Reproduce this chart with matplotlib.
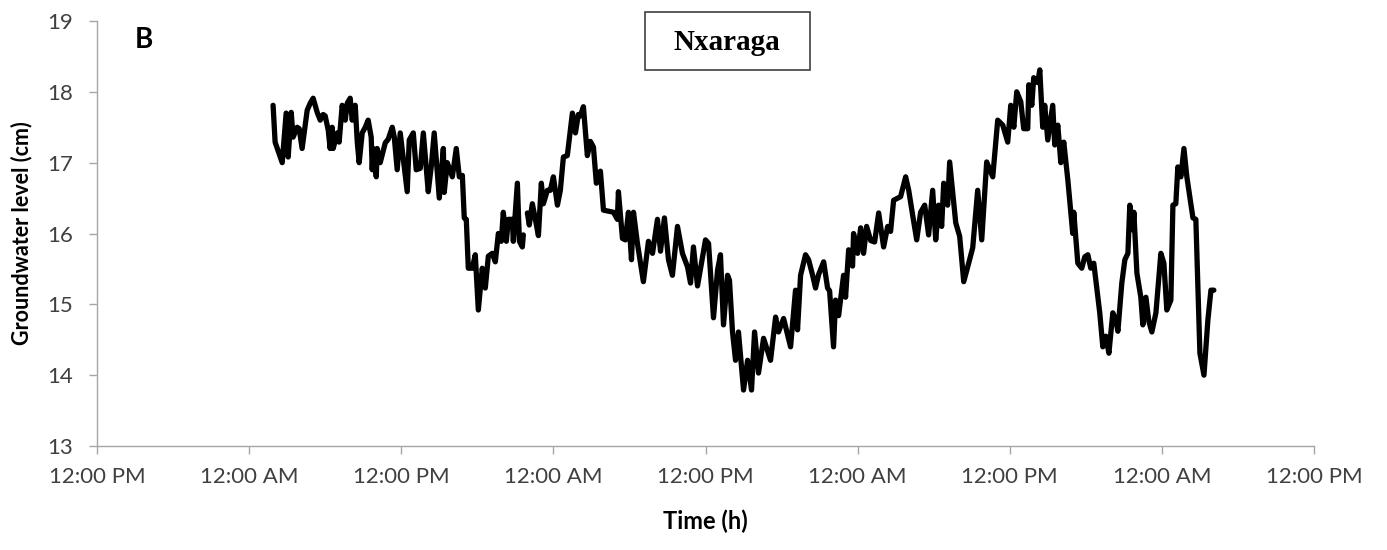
import numpy as np
import matplotlib
matplotlib.use("Agg")
from matplotlib import pyplot as plt
from matplotlib.patches import Rectangle

# hours since the first 12:00 PM, groundwater level (cm)
hours = [13.89, 14.05, 14.61, 14.92, 15.08, 15.32, 15.47, 15.79, 15.95, 16.18,
         16.58, 16.82, 17.05, 17.37, 17.61, 17.84, 18.0, 18.24, 18.39, 18.55,
         18.63, 18.95, 19.1, 19.34, 19.58, 19.74, 19.97, 20.13, 20.37, 20.53,
         20.68, 20.92, 21.16, 21.39, 21.63, 21.71, 21.79, 22.03, 22.1, 22.34,
         22.74, 22.97, 23.29, 23.45, 23.68, 23.92, 24.47, 24.63, 24.95, 25.18,
         25.5, 25.74, 26.13, 26.37, 26.6, 27.0, 27.32, 27.39, 27.63, 28.03,
         28.34, 28.58, 28.82, 28.97, 29.13, 29.29, 29.6, 29.84, 30.08, 30.39,
         30.63, 30.87, 31.18, 31.42, 31.66, 31.89, 32.05, 32.29, 32.45, 32.76,
         32.84, 33.16, 33.32, 33.55, 33.63, 33.8,
         33.95, 34.1, 34.34, 34.58, 34.82, 35.05, 35.21, 35.53, 35.76, 36.0,
         36.32, 36.55, 36.79, 37.1, 37.5, 37.74, 37.97, 38.13, 38.37, 38.68,
         38.92, 39.16, 39.39, 39.71, 39.95, 40.74, 41.05, 41.13, 41.45, 41.68,
         41.92, 42.16, 42.32, 42.63, 43.1, 43.5, 43.82, 44.21, 44.45, 44.76,
         45.08, 45.39, 45.79, 46.18, 46.58, 46.82, 47.05, 47.37, 47.6, 48.0,
         48.24, 48.63, 48.95, 49.18, 49.42, 49.74, 49.89, 50.13, 50.37, 50.6,
         51.0, 51.32, 51.63, 51.87, 52.18, 52.58, 53.13, 53.53, 53.76, 54.16,
         54.71, 55.1, 55.26, 55.5, 55.89, 56.13, 56.45, 56.68, 56.92, 57.32,
         57.63, 57.79, 58.1, 58.26, 58.5, 58.89, 59.05, 59.29, 59.6, 59.68,
         60.0, 60.24, 60.47, 60.71, 61.03, 61.34, 61.66, 62.05, 62.37, 62.6,
         62.84, 63.39, 63.79, 64.03, 64.34, 64.66, 64.97, 65.29, 65.6, 65.92,
         66.16, 66.39, 66.63, 66.79, 67.1, 67.26, 67.74, 68.05, 68.37, 68.76,
         69.08, 69.47, 69.79, 70.18, 70.66, 71.05, 71.45, 71.84, 72.08, 72.32,
         72.55, 72.87, 73.1, 73.42, 73.5, 73.74, 73.89, 74.21, 74.37, 74.6,
         74.76, 75.0, 75.39, 75.55, 75.79, 76.03, 76.26, 76.58, 76.97, 77.05,
         77.37, 77.68, 77.92, 78.16, 78.39, 78.63, 79.1, 79.34, 79.58, 79.82,
         80.13, 80.37, 80.53, 80.84, 81.08, 81.32, 81.47, 81.71, 81.79, 82.03,
         82.34, 82.5, 82.74, 82.97, 83.21, 83.53, 83.92, 84.16, 84.39, 84.71,
         84.87, 85.1, 85.26, 85.5, 85.74, 85.97, 86.45, 86.68, 87.0, 87.32,
         87.63, 87.87, 88.1]

level = [17.81, 17.29, 17.0, 17.7, 17.08, 17.71, 17.36, 17.5, 17.48, 17.2,
         17.74, 17.84, 17.91, 17.71, 17.6, 17.68, 17.66, 17.46, 17.2, 17.5,
         17.2, 17.42, 17.29, 17.81, 17.6, 17.84, 17.91, 17.6, 17.81, 17.29,
         17.0, 17.42, 17.5, 17.6, 17.36, 16.9, 17.2, 16.8, 17.2, 17.0,
         17.28, 17.33, 17.5, 17.36, 16.9, 17.42, 16.59, 17.32, 17.42, 16.9,
         16.92, 17.42, 16.59, 16.95, 17.42, 16.5, 17.2, 16.58, 17.0, 16.8,
         17.2, 16.8, 16.82, 16.22, 16.2, 15.51, 15.51, 15.7, 14.92, 15.51,
         15.23, 15.68, 15.72, 15.6, 16.0, 15.89, 16.3, 15.89, 16.2, 16.2,
         15.89, 16.71, 15.89, 15.81, 15.98, np.nan,
         16.29, 16.12, 16.42, 16.2, 15.97, 16.71, 16.42, 16.61, 16.61, 16.8,
         16.4, 16.61, 17.08, 17.1, 17.7, 17.42, 17.68, 17.66, 17.79, 17.1,
         17.3, 17.22, 16.71, 16.88, 16.33, 16.3, 16.2, 16.59, 15.93, 15.91,
         16.3, 15.63, 16.3, 15.86, 15.32, 15.89, 15.72, 16.2, 15.75, 16.22,
         15.63, 15.41, 16.1, 15.72, 15.53, 15.3, 15.81, 15.26, 15.5, 15.91,
         15.86, 14.81, 15.48, 15.7, 14.71, 15.41, 15.34, 14.61, 14.21, 14.61,
         13.79, 14.21, 13.79, 14.61, 14.03, 14.52, 14.21, 14.82, 14.61, 14.8,
         14.4, 15.2, 14.64, 15.41, 15.7, 15.63, 15.41, 15.23, 15.42, 15.6,
         15.23, 15.19, 14.4, 15.06, 14.84, 15.41, 15.1, 15.77, 15.54, 16.0,
         15.72, 16.08, 15.72, 16.1, 15.9, 15.88, 16.29, 15.81, 16.1, 16.03,
         16.47, 16.52, 16.8, 16.61, 16.26, 15.91, 16.3, 16.4, 15.98, 16.61,
         15.91, 16.4, 16.1, 16.71, 16.4, 17.01, 16.15, 15.96, 15.32, 15.58,
         15.8, 16.61, 15.91, 17.01, 16.8, 17.6, 17.53, 17.29, 17.81, 17.5,
         18.0, 17.86, 17.48, 17.48, 18.1, 17.81, 18.2, 18.13, 18.31, 17.5,
         17.81, 17.32, 17.81, 17.25, 17.53, 17.0, 17.29, 16.76, 16.0, 16.3,
         15.58, 15.51, 15.67, 15.7, 15.51, 15.58, 14.88, 14.4, 14.55, 14.31,
         14.88, 14.78, 14.62, 15.3, 15.63, 15.72, 16.4, 16.05, 16.3, 15.44,
         15.1, 14.71, 15.1, 14.76, 14.61, 14.88, 15.72, 15.58, 14.92, 15.06,
         16.4, 16.42, 16.94, 16.8, 17.2, 16.8, 16.22, 16.2, 14.31, 14.0,
         14.78, 15.2, 15.2]

tick_hours = [0, 12, 24, 36, 48, 60, 72, 84, 96]
tick_labels = ["12:00 PM", "12:00 AM"] * 4 + ["12:00 PM"]
y_ticks = [13, 14, 15, 16, 17, 18, 19]

plt.rcParams['font.family'] = ['Lato', 'DejaVu Sans']

W, H = 1387, 550
fig = plt.figure(figsize=(W / 100, H / 100), dpi=100)
fig.patch.set_facecolor('white')
ax = fig.add_axes([97 / W, 104 / H, 1217 / W, 425 / H])

ax.plot(hours, level, color='black', lw=3.8, solid_joinstyle='round',
        solid_capstyle='round')

ax.set_xlim(0, 96)
ax.set_ylim(13, 19)
ax.set_xticks(tick_hours)
ax.set_xticklabels(tick_labels)
ax.set_yticks(y_ticks)

for s in ['top', 'right']:
    ax.spines[s].set_visible(False)
for s in ['left', 'bottom']:
    ax.spines[s].set_color('#a6a6a6')
    ax.spines[s].set_linewidth(1.0)

ax.tick_params(axis='both', colors='#a6a6a6', length=6, width=1.0,
               labelcolor='#404040', labelsize=16)
ax.tick_params(axis='x', pad=9)
ax.tick_params(axis='y', pad=11)

ax.set_xlabel('Time (h)', fontsize=17, fontweight='bold', color='black', labelpad=16)
ax.set_ylabel('Groundwater level (cm)', fontsize=15.5, fontweight='bold', color='black', labelpad=11)

fig.text(135 / W, 1 - 40 / H, 'B', fontsize=20, fontweight='bold', va='center', ha='left')

# title box
fig.patches.append(Rectangle((645 / W, 1 - 70 / H), 165 / W, 58 / H,
                             transform=fig.transFigure, facecolor='white',
                             edgecolor='#404040', lw=1.2))
fig.text(727 / W, 1 - 43 / H, 'Nxaraga', fontsize=21, fontweight='bold',
         family='Liberation Serif', ha='center', va='center')

fig.savefig('out.png', dpi=100)
